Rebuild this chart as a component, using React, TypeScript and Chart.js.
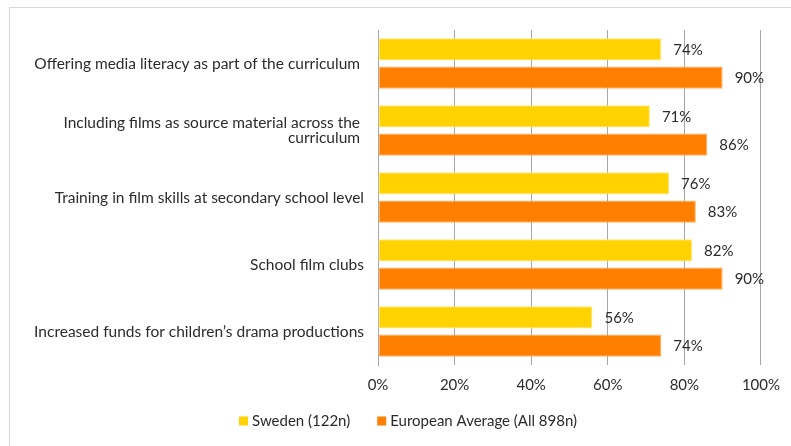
import React, { useEffect, useRef } from "react";
import { Chart, registerables } from "chart.js";

Chart.register(...registerables);

// Category labels (multi-line entries are pre-wrapped)
const categories: string[][] = [
  ["Offering media literacy as part of the curriculum "],
  ["Including films as source material across the ", "curriculum "],
  ["Training in film skills at secondary school level"],
  ["School film clubs"],
  ["Increased funds for children\u2019s drama productions"],
];

const seriesNames = ["Sweden (122n)", "European Average (All 898n)"];
const swedenValues = [74, 71, 76, 82, 56];
const europeValues = [90, 86, 83, 90, 74];
const xTickValues = [0, 20, 40, 60, 80, 100];

const FONT_FAMILY = "Lato, 'Open Sans', sans-serif";
const FONT_SIZE = 15;
const LABEL_FONT_SIZE = 15.5;
const TEXT_COLOR = "#2b2b2b";
const GRID_COLOR = "#a6a6a6";

// Legend row placement
const LEGEND_X = 239;
const LEGEND_Y = 421;
const LEGEND_BOX = 9;
const LEGEND_TEXT_GAP = 13;
const LEGEND_ITEM_GAP = 27;

// Percentage labels to the right of each bar
const valueLabels = {
  id: "valueLabels",
  afterDatasetsDraw(chart: any) {
    const ctx = chart.ctx;
    ctx.save();
    ctx.font = `${FONT_SIZE}px ${FONT_FAMILY}`;
    ctx.fillStyle = TEXT_COLOR;
    ctx.textAlign = "left";
    ctx.textBaseline = "middle";
    chart.data.datasets.forEach((ds: any, i: number) => {
      const meta = chart.getDatasetMeta(i);
      meta.data.forEach((bar: any, j: number) => {
        ctx.fillText(`${ds.data[j]}%`, bar.x + 12, bar.y + 1);
      });
    });
    ctx.restore();
  },
};

// Legend drawn as a single row below the axis
const bottomLegend = {
  id: "bottomLegend",
  afterDraw(chart: any) {
    const ctx = chart.ctx;
    ctx.save();
    ctx.font = `${FONT_SIZE}px ${FONT_FAMILY}`;
    ctx.textAlign = "left";
    ctx.textBaseline = "middle";
    let x = LEGEND_X;
    chart.data.datasets.forEach((ds: any) => {
      ctx.fillStyle = ds.backgroundColor;
      ctx.fillRect(x, LEGEND_Y - LEGEND_BOX / 2, LEGEND_BOX, LEGEND_BOX);
      ctx.fillStyle = TEXT_COLOR;
      const tx = x + LEGEND_TEXT_GAP;
      ctx.fillText(ds.label, tx, LEGEND_Y);
      x = tx + ctx.measureText(ds.label).width + LEGEND_ITEM_GAP;
    });
    ctx.restore();
  },
};

export default function App() {
  const canvasRef = useRef<HTMLCanvasElement | null>(null);

  useEffect(() => {
    if (!canvasRef.current) return;
    const chart = new Chart(canvasRef.current, {
      type: "bar",
      data: {
        labels: categories,
        datasets: [
          {
            label: seriesNames[0],
            data: swedenValues,
            backgroundColor: "#FFD200",
            borderColor: "#FFE680",
            borderWidth: 1,
            borderSkipped: false,
            categoryPercentage: 0.84,
            barPercentage: 0.79,
          },
          {
            label: seriesNames[1],
            data: europeValues,
            backgroundColor: "#FF7F00",
            borderColor: "#FFB066",
            borderWidth: 1,
            borderSkipped: false,
            categoryPercentage: 0.84,
            barPercentage: 0.79,
          },
        ],
      },
      options: {
        indexAxis: "y",
        animation: false,
        responsive: false,
        devicePixelRatio: 1,
        layout: { padding: { left: 0, right: 29, top: 30, bottom: 41 } },
        scales: {
          x: {
            min: 0,
            max: 100,
            afterBuildTicks: (scale: any) => {
              scale.ticks = xTickValues.map((v) => ({ value: v }));
            },
            ticks: {
              callback: (v: any) => `${v}%`,
              color: TEXT_COLOR,
              font: { family: FONT_FAMILY, size: FONT_SIZE, lineHeight: 1.2 },
              padding: 11,
              maxRotation: 0,
            },
            grid: { color: GRID_COLOR, drawTicks: false, lineWidth: 1 },
            border: { display: false },
          },
          y: {
            afterFit: (scale: any) => {
              scale.width = 378;
            },
            ticks: {
              color: TEXT_COLOR,
              font: { family: FONT_FAMILY, size: LABEL_FONT_SIZE, lineHeight: 1.0 },
              padding: 14,
            },
            grid: { display: false, drawTicks: false },
            border: { display: true, color: GRID_COLOR, width: 1 },
          },
        },
        plugins: {
          legend: { display: false },
          tooltip: { enabled: false },
        },
      },
      plugins: [valueLabels, bottomLegend],
    });
    return () => chart.destroy();
  }, []);

  return (
    <>
      <div
        style={{
          position: "fixed",
          left: 9,
          top: 7,
          width: 900,
          height: 600,
          border: "1px solid #d9d9d9",
          boxSizing: "border-box",
        }}
      />
      <canvas
        ref={canvasRef}
        width={791}
        height={446}
        style={{ position: "fixed", left: 0, top: 0, width: 791, height: 446 }}
      />
    </>
  );
}
